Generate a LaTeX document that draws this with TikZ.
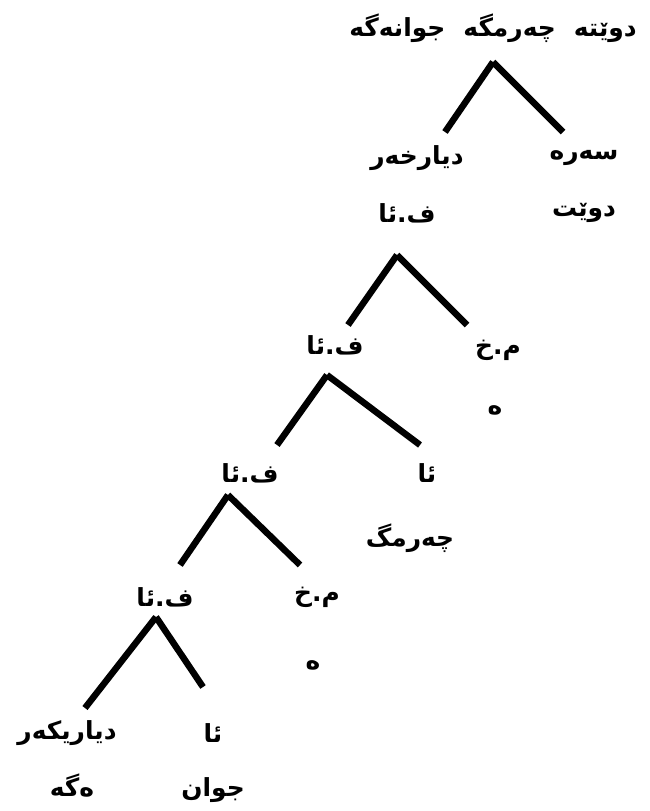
\documentclass[tikz,border=0pt]{standalone}
\usepackage{fontspec}
\TeXXeTstate=1
\newfontfamily\arabicfont[Script=Arabic]{DejaVu Sans}
\newcommand\rtltext[1]{\beginR #1\endR}
\tikzset{
  lbl/.style={font=\arabicfont\bfseries\fontsize{25}{30}\selectfont, inner sep=0pt},
  branch/.style={line width=6.5bp, black},
}
\begin{document}
\begin{tikzpicture}[x=1bp, y=-1bp]
\useasboundingbox (0,0) rectangle (650,811);
\fill[white] (0,0) rectangle (650,811);

% labels
\node[lbl] (title) at (493,28) {\rtltext{دوێتە\hskip 18bp چەرمگە\hskip 18bp جوانەگە}};
\node[lbl] (modA)  at (417,158) {\rtltext{دیارخەر}};
\node[lbl] (fa1)   at (407,213) {\rtltext{ف.ئا}};
\node[lbl] (head)  at (584,158) {\rtltext{سەرە}};
\node[lbl] (head2) at (584,213) {\rtltext{دوێت}};

\node[lbl] (fa2)   at (335,345) {\rtltext{ف.ئا}};
\node[lbl] (mk1)   at (498,350) {\rtltext{م.خ}};
\node[lbl] (he1)   at (495,410) {\rtltext{ە}};

\node[lbl] (fa3)   at (250,473) {\rtltext{ف.ئا}};
\node[lbl] (aa1)   at (427,473) {\rtltext{ئا}};
\node[lbl] (cherm) at (410,538) {\rtltext{چەرمگ}};

\node[lbl] (fa4)   at (165,597) {\rtltext{ف.ئا}};
\node[lbl] (mk2)   at (317,597) {\rtltext{م.خ}};
\node[lbl] (he2)   at (313,665) {\rtltext{ە}};

\node[lbl] (modB)  at (67,733) {\rtltext{دیاریکەر}};
\node[lbl] (aa2)   at (213,733) {\rtltext{ئا}};
\node[lbl] (ega)   at (72,786) {\rtltext{ەگە}};
\node[lbl] (jwan)  at (213,790) {\rtltext{جوان}};

% branch points
\coordinate (p1) at (493,62);  \coordinate (p1l) at (445,132); \coordinate (p1r) at (563,132);
\coordinate (p2) at (397,255); \coordinate (p2l) at (348,325); \coordinate (p2r) at (467,325);
\coordinate (p3) at (327,375); \coordinate (p3l) at (277,445); \coordinate (p3r) at (420,445);
\coordinate (p4) at (228,495); \coordinate (p4l) at (180,565); \coordinate (p4r) at (300,565);
\coordinate (p5) at (156,617); \coordinate (p5l) at (85,708);  \coordinate (p5r) at (203,687);

\foreach \p in {p1,p2,p3,p4,p5}{
  \draw[branch] (\p) -- (\p l);
  \draw[branch] (\p) -- (\p r);
}
\end{tikzpicture}
\end{document}
